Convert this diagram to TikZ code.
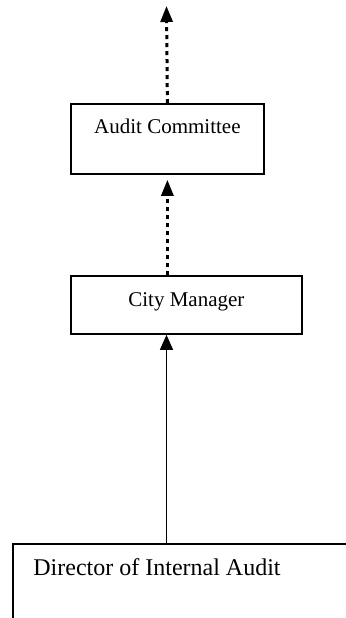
\documentclass[tikz,border=0pt]{standalone}
\usepackage{fontspec}
\setmainfont{Liberation Serif}
\usepackage{tikz}
\usetikzlibrary{arrows.meta}
\tikzset{
  box/.style={draw=black, line width=0.9pt, inner sep=0pt, anchor=north west},
  dotarrow/.style={black, line width=1.5pt, dash pattern=on 2pt off 2pt, -{Triangle[width=6pt,length=8pt]}},
  solidarrow/.style={black, line width=0.6pt, -{Triangle[width=6.5pt,length=7.5pt]}}
}

\begin{document}
\begin{tikzpicture}[x=0.5pt, y=-0.5pt, font=\fontsize{10.5}{12}\selectfont]

    \useasboundingbox (0,0) rectangle (346,618);

    % boxes
    \node[box, minimum width=96.5pt, text height=15pt, text depth=20pt] (audit) at (70,103) {Audit Committee};
    \node[box, minimum width=115.5pt, text height=15.5pt, text depth=13.5pt] (manager) at (70,275) {City Manager};
    \draw[line width=0.9pt] (346,544) -- (13,544) -- (13,620);
    \node[anchor=base west, inner sep=0pt, font=\fontsize{12}{14}\selectfont] (director) at (33,575) {Director of Internal Audit};
    \coordinate (dirtop) at (166.5,544);
    \coordinate (top) at (166.5,6);

    % reporting lines
    \draw[dotarrow] (audit.north) -- (top);
    \draw[dotarrow, shorten >=2.5pt] (audit.south |- manager.north) -- (audit.south);
    \draw[solidarrow] (dirtop) -- (dirtop |- manager.south);

\end{tikzpicture}
\end{document}
